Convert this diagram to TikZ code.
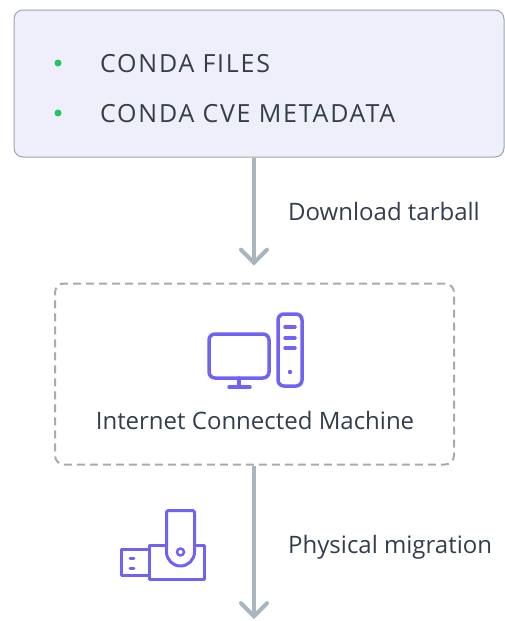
\documentclass[tikz,border=0pt]{standalone}
\usepackage{fontspec}
\setmainfont{Open Sans}
\usepackage{xcolor}
\usetikzlibrary{arrows.meta,positioning}

\definecolor{boxfill}{HTML}{EFEFFC}
\definecolor{boxline}{HTML}{9CA4AC}
\definecolor{dashline}{HTML}{A3ADAB}
\definecolor{flowgray}{HTML}{AAB6BF}
\definecolor{textdark}{HTML}{333D4B}
\definecolor{bulletgreen}{HTML}{22C55E}
\definecolor{iconpurple}{HTML}{7062F4}

\tikzset{
	txt/.style={font=\fontsize{24}{28}\selectfont, text=textdark, inner sep=0pt},
	captxt/.style={txt, font=\fontsize{25}{28}\selectfont\addfontfeature{LetterSpace=7}},
	flow/.style={draw=flowgray, line width=4pt, -{Straight Barb[length=13pt,width=26pt,line cap=round]}},
	icon/.style={draw=iconpurple, line width=3.5pt, line cap=round, line join=round},
	bullet/.style={circle, fill=bulletgreen, inner sep=0pt, minimum size=7pt},
}

\begin{document}
\begin{tikzpicture}[x=1pt, y=-1pt]
	\useasboundingbox (0,0) rectangle (505,621);
	% boxes
	\node[draw=boxline, fill=boxfill, line width=1pt, rounded corners=9pt,
		minimum width=490pt, minimum height=147pt] (files) at (259,83.5) {};
	\node[draw=dashline, line width=2pt, dash pattern=on 8pt off 5pt, rounded corners=9pt,
		minimum width=399pt, minimum height=181pt] (machine) at (254.5,374) {};
	\coordinate (end) at (254,619);

	% list
	\node[bullet] (b1) at (58,63) {};
	\node[bullet] (b2) at (58,113) {};
	\node[captxt, anchor=base west] (l1) at (100,72) {CONDA FILES};
	\node[captxt, anchor=base west] (l2) at (100,122) {CONDA CVE METADATA};

	% arrows
	\draw[flow] (files.south -| end) -- ([yshift=17pt]machine.north -| end);
	\draw[flow] (machine.south -| end) -- (end);
	\node[txt, anchor=base west] (dl) at (288,220) {Download tarball};
	\node[txt, anchor=base west] (pm) at (288,553) {Physical migration};
	\node[txt, anchor=base] (icm) at (255,429) {Internet Connected Machine};

	% computer icon
	\draw[icon, rounded corners=6pt] (209,334) rectangle (269,378);
	\draw[icon] (239,378) -- (239,387);
	\draw[icon] (229,387) -- (250,387);
	\draw[icon, rounded corners=6pt] (278,314) rectangle (302,386);
	\foreach \y in {327,338,348}
		\draw[icon] (285,\y) -- (295,\y);
	\fill[iconpurple] (290,372) circle (2.2pt);

	% usb icon
	\draw[icon, line width=3pt] (121.5,549.5) rectangle (149.5,575.5);
	\draw[icon, line width=3pt] (130,558) -- (134,558);
	\draw[icon, line width=3pt] (130,568) -- (134,568);
	\draw[icon, line width=3pt] (149.5,545.5) rectangle (204.5,579.5);
	\draw[icon, line width=3pt, fill=white] (166.5,552) -- (166.5,512) -- (168,510.5) -- (193,510.5) -- (194.5,512) -- (194.5,552)
		arc[start angle=0, end angle=-180, radius=14pt] -- cycle;
	\draw[icon, line width=2.5pt] (180.5,552) circle (3.5pt);
\end{tikzpicture}
\end{document}
